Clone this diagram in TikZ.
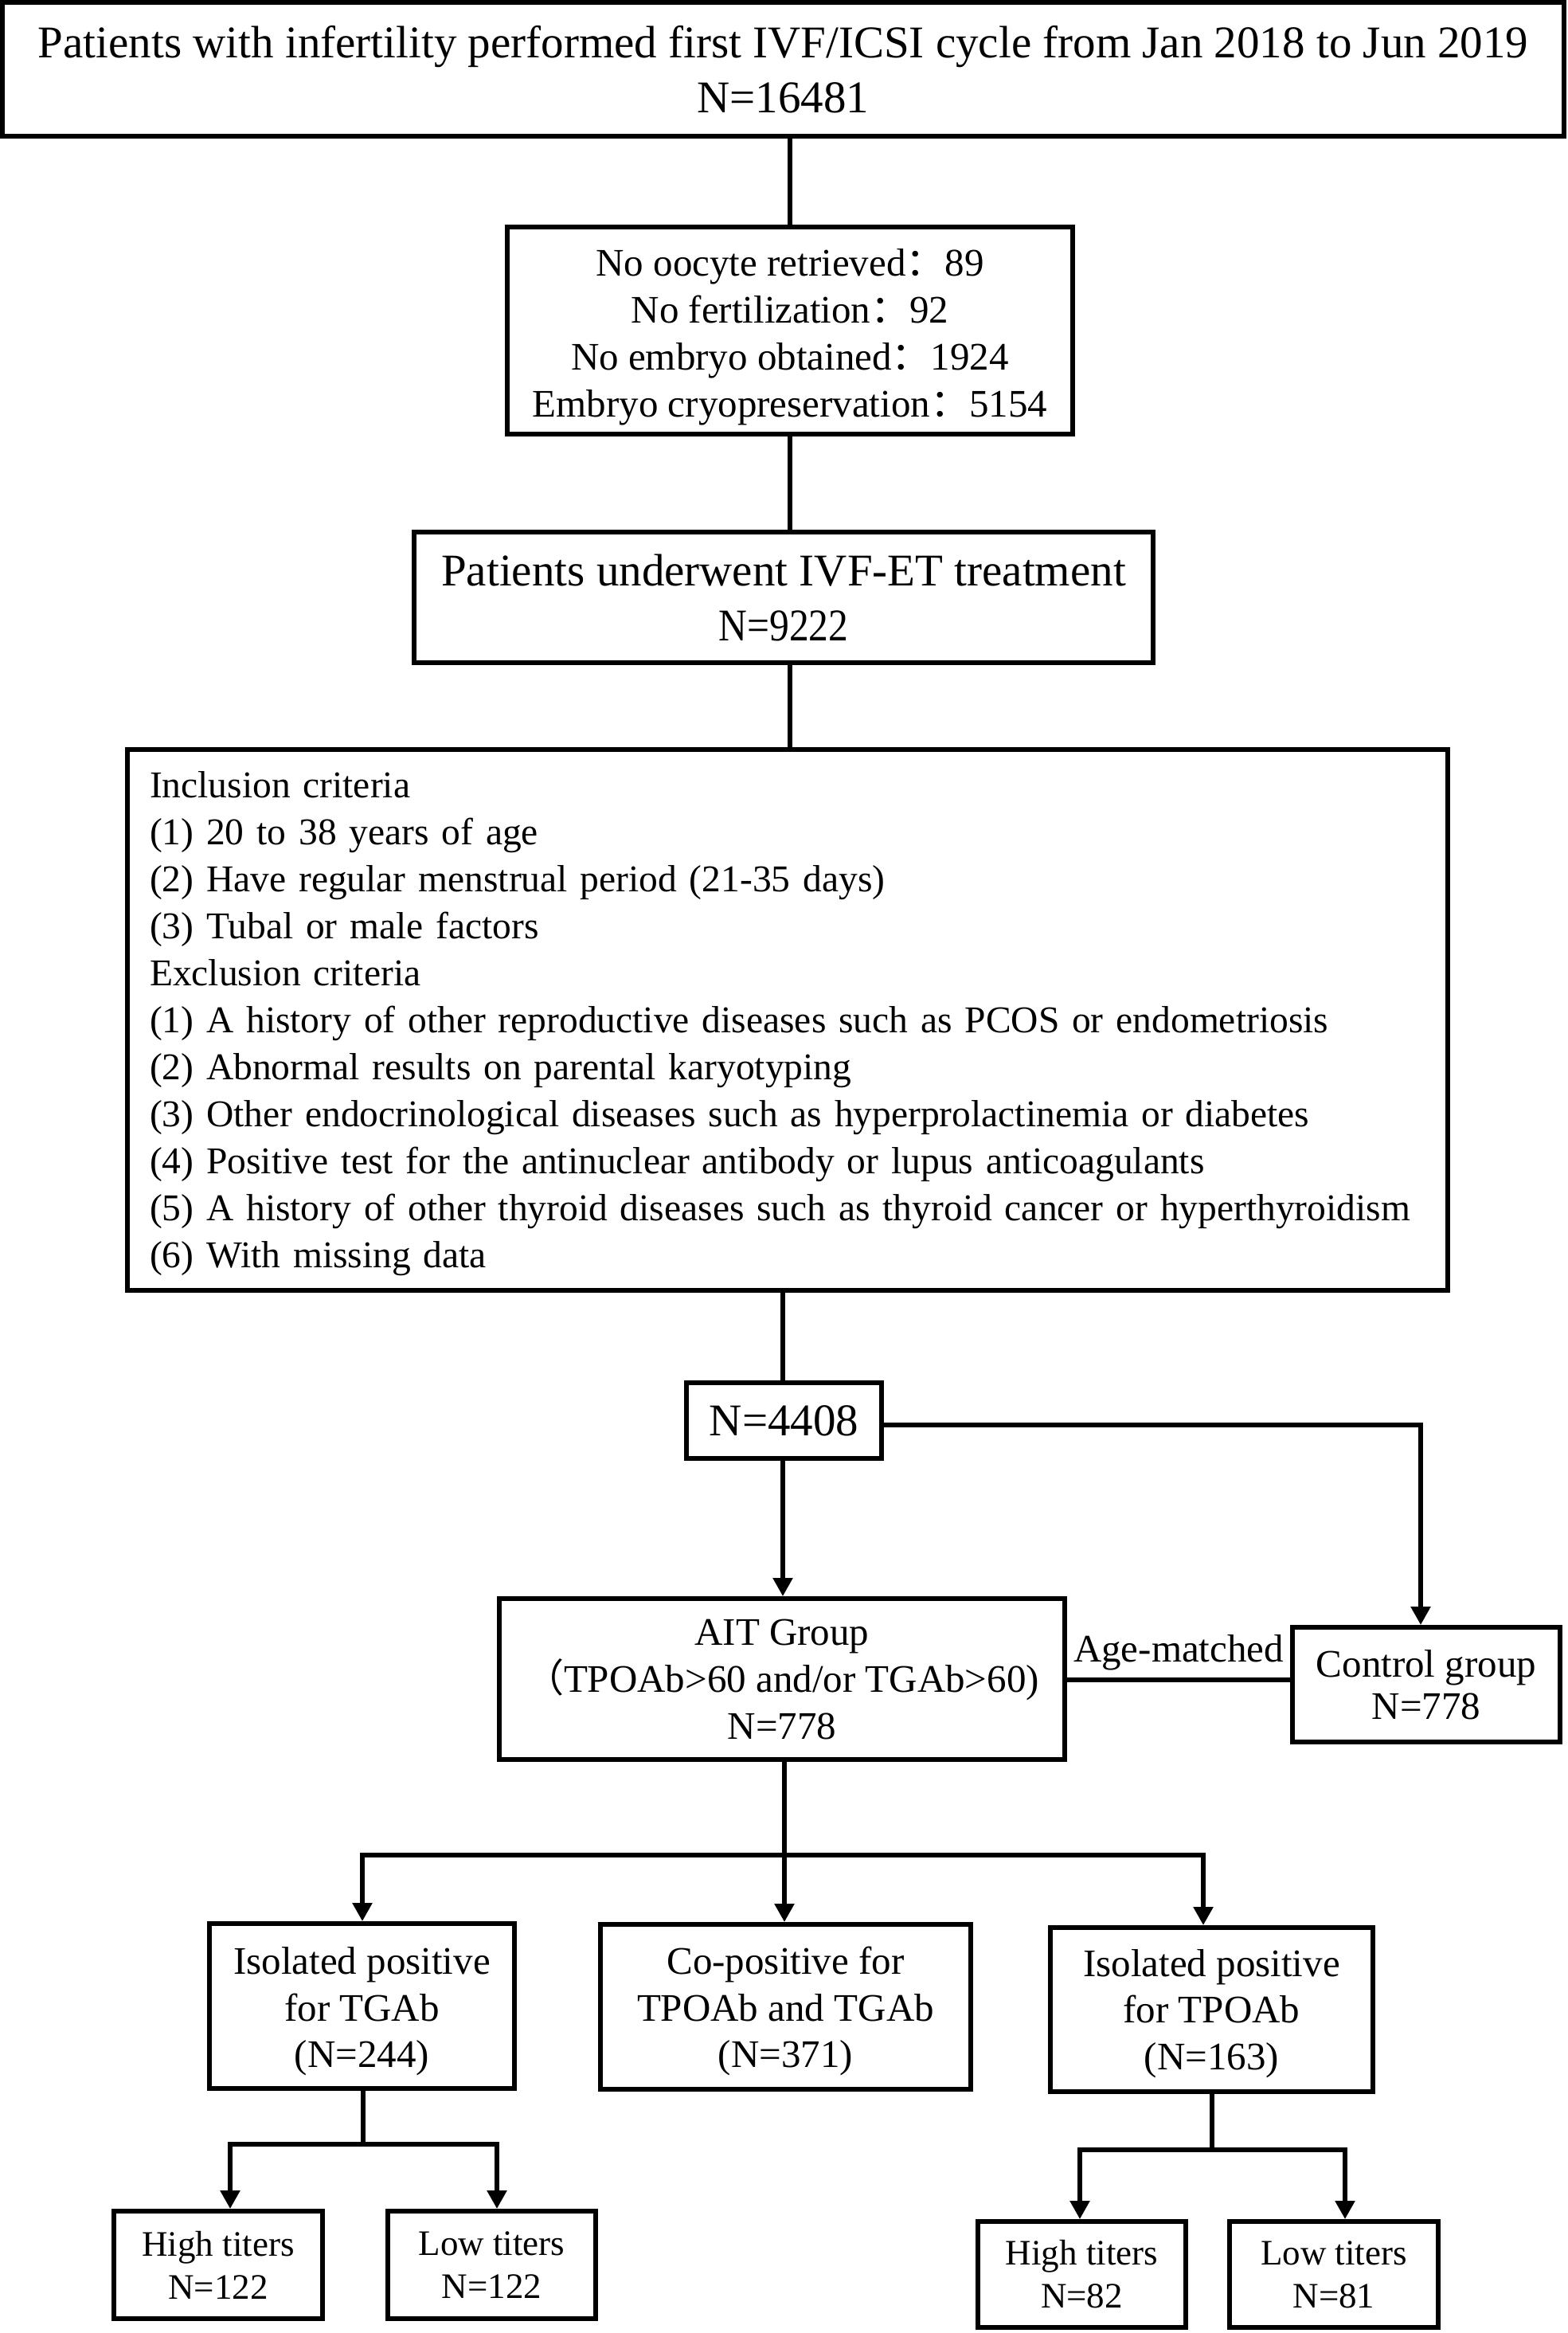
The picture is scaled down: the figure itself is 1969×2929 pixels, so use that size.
\documentclass[tikz,border=0pt]{standalone}
\usepackage{fontspec}
\usepackage{graphicx}
\setmainfont{Liberation Serif}
\newfontfamily\cjk{Noto Sans CJK SC}
\usetikzlibrary{arrows.meta}
\newcommand{\fsN}{\fontsize{49pt}{59pt}\selectfont}
\newcommand{\fsL}{\fontsize{57pt}{69pt}\selectfont}
\newcommand{\fsT}{\fontsize{45pt}{54pt}\selectfont}
\newcommand{\fc}{{\cjk ：}}
\newcommand{\dn}[1]{\rule{0pt}{#1}}
\tikzset{
  box/.style={draw, line width=6pt, inner sep=0pt, align=center, font=\fsN},
  conn/.style={line width=5.5pt},
  arr/.style={line width=5.5pt, -{Triangle[length=23pt,width=24pt]}},
}
\begin{document}
\begin{tikzpicture}[x=1pt,y=-1pt]
\useasboundingbox (0,0) rectangle (1969,2929);
\fill[white] (0,0) rectangle (1969,2929);

\node[box, font=\fsL, minimum width=1961pt, minimum height=168pt] (top) at (983.5,87)
  {Patients with infertility performed first IVF/ICSI cycle from Jan 2018 to Jun 2019\\N=16481};
\node[box, minimum width=710pt, minimum height=260pt] (box2) at (992,415)
  {\dn{50pt}No oocyte retrieved\fc89\\No fertilization\fc92\\No embryo obtained\fc1924\\Embryo cryopreservation\fc5154};
\node[box, font=\fsL, minimum width=928pt, minimum height=164pt] (box3) at (984,750)
  {Patients underwent IVF-ET treatment\\\scalebox{0.87}[1]{N=9222}};
\node[box, align=left, text width=1602pt, inner xsep=28pt, font=\fontsize{47.5pt}{59pt}\selectfont, minimum width=1658pt, minimum height=679pt] (box4) at (989,1280.5)
  {\dn{42pt}Inclusion criteria\\
   (1) 20 to 38 years of age\\
   (2) Have regular menstrual period (21-35 days)\\
   (3) Tubal or male factors\\
   Exclusion criteria\\
   (1) A history of other reproductive diseases such as PCOS or endometriosis\\
   (2) Abnormal results on parental karyotyping\\
   (3) Other endocrinological diseases such as hyperprolactinemia or diabetes\\
   (4) Positive test for the antinuclear antibody or lupus anticoagulants\\
   (5) A history of other thyroid diseases such as thyroid cancer or hyperthyroidism\\
   (6) With missing data};
\node[box, font=\fontsize{57pt}{60pt}\selectfont, minimum width=245pt, minimum height=95pt] (box5) at (984.5,1783.5) {N=4408};
\node[box, minimum width=710pt, minimum height=202pt] (ait) at (982,2108)
  {AIT Group\\{\cjk （}TPOAb>60 and/or TGAb>60)\\N=778};
\node[box, font=\fontsize{49pt}{53pt}\selectfont, minimum width=336pt, minimum height=144pt] (ctrl) at (1791,2115)
  {Control group\\N=778};
\node[box, font=\fontsize{49pt}{58.5pt}\selectfont, minimum width=383pt, minimum height=207pt] (tgab) at (454.5,2518.5)
  {\dn{48pt}Isolated positive\\for TGAb\\(N=244)};
\node[box, font=\fontsize{49pt}{58.5pt}\selectfont, minimum width=465pt, minimum height=207pt] (copos) at (986.5,2519.5)
  {\dn{46pt}Co-positive for\\TPOAb and TGAb\\(N=371)};
\node[box, font=\fontsize{49pt}{58.5pt}\selectfont, minimum width=405pt, minimum height=206pt] (tpoab) at (1521.5,2523)
  {\dn{44pt}Isolated positive\\for TPOAb\\(N=163)};
\node[box, font=\fsT, minimum width=262pt, minimum height=135pt] (highL) at (274,2843.5) {High titers\\N=122};
\node[box, font=\fsT, minimum width=261pt, minimum height=135pt] (lowL) at (617.5,2843.5) {Low titers\\N=122};
\node[box, font=\fsT, minimum width=261pt, minimum height=133pt] (highR) at (1358.5,2855.5) {High titers\\N=82};
\node[box, font=\fsT, minimum width=262pt, minimum height=133pt] (lowR) at (1675,2855.5) {Low titers\\N=81};

% spines
\coordinate (sp1) at (992,0);
\coordinate (sp2) at (983,0);
\coordinate (turn) at (1784,1789);
\coordinate (agey) at (0,2109);
\coordinate (s1M) at (985,2329);
\coordinate (s1L) at (455,2329);
\coordinate (s1R) at (1511,2329);
\coordinate (s2M) at (456,2692);
\coordinate (s2L) at (289,2692);
\coordinate (s2R) at (624,2692);
\coordinate (s3M) at (1522,2699);
\coordinate (s3L) at (1356,2699);
\coordinate (s3R) at (1689,2699);

\draw[conn] (sp1 |- top.south) -- (sp1 |- box2.north);
\draw[conn] (sp1 |- box2.south) -- (sp1 |- box3.north);
\draw[conn] (sp1 |- box3.south) -- (sp1 |- box4.north);
\draw[conn] (sp2 |- box4.south) -- (sp2 |- box5.north);
\draw[arr] (sp2 |- box5.south) -- (sp2 |- ait.north);
\draw[arr] (box5.east |- turn) -- (turn) -- (turn |- ctrl.north);
\draw[conn] (ait.east |- agey) -- node[above=9pt, inner sep=0pt, font=\fsN, anchor=south] (agelbl) {Age-matched} (ctrl.west |- agey);

\draw[conn] (s1M |- ait.south) -- (s1M);
\draw[arr] (s1M) -- (s1L) -- (s1L |- tgab.north);
\draw[arr] (s1M) -- (s1R) -- (s1R |- tpoab.north);
\draw[arr] (s1M) -- (s1M |- copos.north);

\draw[conn] (s2M |- tgab.south) -- (s2M);
\draw[arr] (s2M) -- (s2L) -- (s2L |- highL.north);
\draw[arr] (s2M) -- (s2R) -- (s2R |- lowL.north);

\draw[conn] (s3M |- tpoab.south) -- (s3M);
\draw[arr] (s3M) -- (s3L) -- (s3L |- highR.north);
\draw[arr] (s3M) -- (s3R) -- (s3R |- lowR.north);
\end{tikzpicture}
\end{document}
